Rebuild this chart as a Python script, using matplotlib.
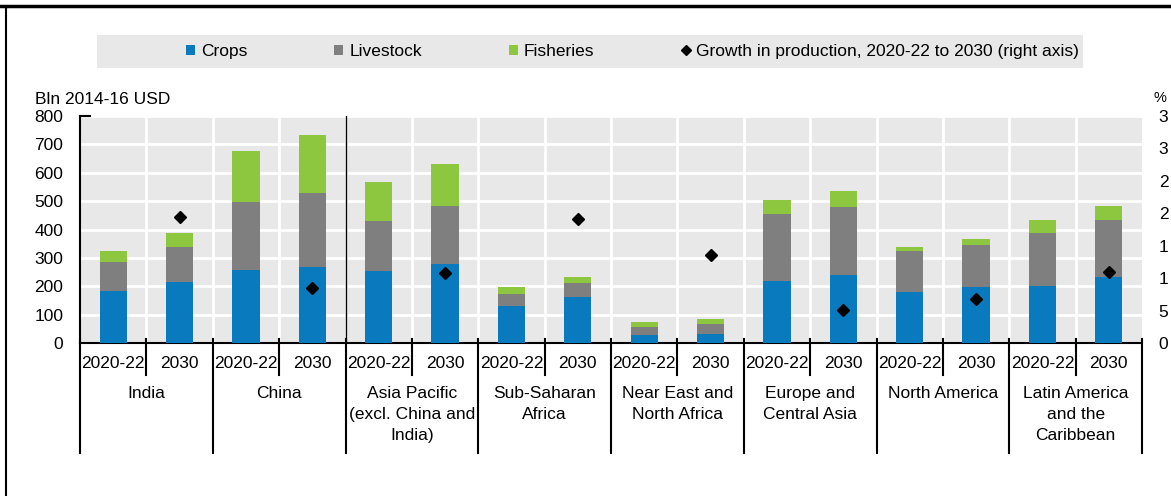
import matplotlib.pyplot as plt
import numpy as np
from matplotlib.lines import Line2D
from matplotlib.patches import Patch, Rectangle

plt.rcParams["font.family"] = ["Liberation Sans", "DejaVu Sans"]

# data (Bln 2014-16 USD), two bars per region: 2020-22, 2030
regions = [
    "India",
    "China",
    "Asia Pacific\n(excl. China and\nIndia)",
    "Sub-Saharan\nAfrica",
    "Near East and\nNorth Africa",
    "Europe and\nCentral Asia",
    "North America",
    "Latin America\nand the\nCaribbean",
]
periods = ["2020-22", "2030"]
crops = np.array([184, 216, 259, 269, 255, 277, 131, 163, 27, 32, 219, 238, 181, 197, 202, 232])
livestock = np.array([101, 123, 237, 258, 175, 206, 40, 48, 30, 34, 234, 241, 144, 150, 185, 203])
fisheries = np.array([40, 47, 180, 206, 137, 149, 27, 22, 18, 18, 51, 57, 14, 18, 48, 47])
# growth in production 2020-22 to 2030, % (right axis)
growth = [1.95, 0.85, 1.08, 1.91, 1.35, 0.51, 0.68, 1.10]
right_ticks = [0, 0.5, 1, 1.5, 2, 2.5, 3, 3.5]
right_labels = ["0", "5", "1", "1", "2", "2", "3", "3"]

CROP_C = "#0A7ABF"
LIVE_C = "#7F7F7F"
FISH_C = "#8DC63F"
BG = "#E8E8E8"
FS = 12.5

W, H = 1171, 496
fig = plt.figure(figsize=(W / 100, H / 100), dpi=100)
ax = fig.add_axes([80 / W, 1 - 343 / H, (1142 - 80) / W, (343 - 116) / H])
ax.set_facecolor(BG)

x = np.arange(len(crops))
bw = 0.41
ax.bar(x, crops, width=bw, color=CROP_C, zorder=3)
ax.bar(x, livestock, bottom=crops, width=bw, color=LIVE_C, zorder=3)
ax.bar(x, fisheries, bottom=crops + livestock, width=bw, color=FISH_C, zorder=3)

ax.set_xlim(-0.5, len(crops) - 0.5)
ax.set_ylim(0, 800)
ax.set_yticks(range(0, 801, 100))
ax.set_axisbelow(True)
ax.yaxis.grid(True, color="white", lw=2)
ax.set_xticks(np.arange(0.5, len(crops) - 1, 1), minor=True)
ax.xaxis.grid(True, which="minor", color="white", lw=2)
ax.set_xticks(x)
ax.set_xticklabels(periods * len(regions))
ax.tick_params(axis="x", which="both", length=0, pad=9, labelsize=FS)
ax.tick_params(axis="y", length=0, pad=12, labelsize=FS)
for s in ["top", "right"]:
    ax.spines[s].set_visible(False)
ax.spines["left"].set_linewidth(1.5)
ax.spines["bottom"].set_linewidth(1.5)
ax.axvline(3.5, color="black", lw=1, zorder=2.5)
# small stub at the top of the left axis
ax.plot([-0.5, -0.35], [800, 800], color="black", lw=1.5, clip_on=False, zorder=4)

# category separators under the axis
trans = ax.get_xaxis_transform()
ah = 343 - 116
for b in np.arange(-0.5, len(crops), 1):
    long_line = int(b + 0.5) % 2 == 0
    y_end = -(453 - 343) / ah if long_line else -(375 - 343) / ah
    ax.plot([b, b], [4 / ah, y_end], color="black", lw=1.5, transform=trans, clip_on=False)

for i, name in enumerate(regions):
    ax.text(2 * i + 0.5, -43 / ah, name, transform=trans, ha="center", va="top",
            fontsize=FS, linespacing=1.5)

# right axis with growth markers
ax2 = ax.twinx()
ax2.set_ylim(0, 3.5)
ax2.plot(x[1::2], growth, ls="none", marker="D", color="black", markersize=6, zorder=5)
ax2.set_yticks(right_ticks)
ax2.set_yticklabels(right_labels)
ax2.tick_params(axis="y", length=0, pad=12, labelsize=FS)
for s in ax2.spines.values():
    s.set_visible(False)

fig.text(35 / W, 1 - 99 / H, "Bln 2014-16 USD", ha="left", va="center", fontsize=FS)
fig.text(1153 / W, 1 - 98 / H, "%", ha="left", va="center", fontsize=10.5)

# legend band
fig.add_artist(Rectangle((97 / W, 1 - 68 / H), (1083 - 97) / W, 33 / H,
                         transform=fig.transFigure, facecolor=BG, edgecolor="none", zorder=0))
handles = [
    Patch(facecolor=CROP_C, label="Crops"),
    Patch(facecolor=LIVE_C, label="Livestock"),
    Patch(facecolor=FISH_C, label="Fisheries"),
    Line2D([], [], ls="none", marker="D", color="black", markersize=5,
           label="Growth in production, 2020-22 to 2030 (right axis)"),
]
fig.legend(handles=handles, loc="center left", bbox_to_anchor=(186 / W, 1 - 51.5 / H),
           ncol=4, frameon=False, fontsize=FS, handlelength=0.52, handleheight=0.52,
           handletextpad=0.35, columnspacing=5.0, borderpad=0, borderaxespad=0)

# page border lines
fig.add_artist(Line2D([0, 1], [1 - 6 / H, 1 - 6 / H], transform=fig.transFigure, color="black", lw=2.5))
fig.add_artist(Line2D([6 / W, 6 / W], [0, 1 - 6 / H], transform=fig.transFigure, color="black", lw=1.5))

fig.savefig("out.png", dpi=100)
